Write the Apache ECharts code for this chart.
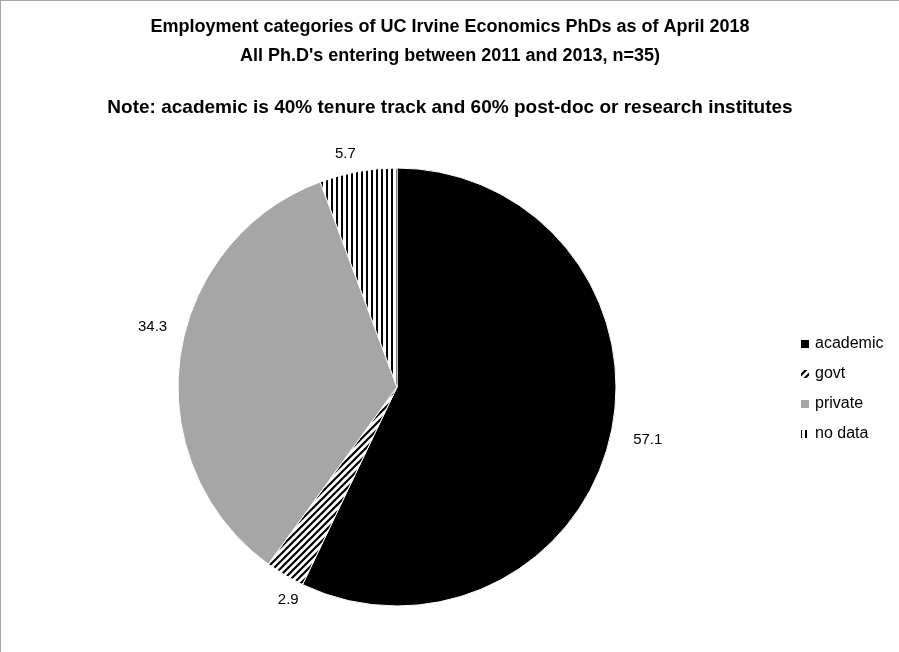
<!DOCTYPE html>
<html>
<head>
<meta charset="utf-8">
<script src="https://cdn.jsdelivr.net/npm/echarts@6/dist/echarts.min.js"></script>
<style>
  html, body { margin: 0; padding: 0; background: #fff; overflow: hidden; }
  #main {
    width: 898px;
    height: 651px;
    border-top: 1px solid #a6a6a6;
    border-left: 1px solid #a6a6a6;
  }
</style>
</head>
<body>
<div id="main"></div>
<script>
var categories = ['academic', 'govt', 'private', 'no data']
var shares = [57.1, 2.9, 34.3, 5.7]

// hatch fills like the excel pattern fills
function stripes(kind) {
  var c = document.createElement('canvas')
  var ctx = c.getContext('2d')
  if (kind === 'vertical') {
    c.width = 5
    c.height = 5
    ctx.fillStyle = '#fff'
    ctx.fillRect(0, 0, 5, 5)
    ctx.fillStyle = '#000'
    ctx.fillRect(0, 0, 2, 5)
  } else {
    var s = 7
    c.width = s
    c.height = s
    ctx.fillStyle = '#fff'
    ctx.fillRect(0, 0, s, s)
    ctx.strokeStyle = '#000'
    ctx.lineWidth = 2.2
    ctx.beginPath()
    ctx.moveTo(-s, s); ctx.lineTo(s, -s)
    ctx.moveTo(0, s); ctx.lineTo(s, 0)
    ctx.moveTo(0, 2 * s); ctx.lineTo(2 * s, 0)
    ctx.stroke()
  }
  return { image: c, repeat: 'repeat' }
}

var fills = ['#000000', stripes('diagonal'), '#a6a6a6', stripes('vertical')]
// excel puts a couple of the labels a bit off the radial line
var labelNudge = [[0, 0], [28, 9], [10, -28], [6, 0]]

var myChart = echarts.init(document.getElementById('main'))

var option = {
  animation: false,
  title: [
    {
      text: 'Employment categories of UC Irvine Economics PhDs as of April 2018\nAll Ph.D\'s entering between 2011 and 2013, n=35)',
      left: 'center',
      top: 7,
      textStyle: {
        fontFamily: 'Liberation Sans',
        fontWeight: 'bold',
        fontSize: 18,
        lineHeight: 29,
        color: '#000'
      }
    },
    {
      text: 'Note: academic is 40% tenure track and 60% post-doc or research institutes',
      left: 'center',
      top: 92,
      textStyle: {
        fontFamily: 'Liberation Sans',
        fontWeight: 'bold',
        fontSize: 19,
        color: '#000'
      }
    }
  ],
  legend: {
    orient: 'vertical',
    left: 793,
    top: 330,
    itemWidth: 10,
    itemHeight: 10,
    itemGap: 14,
    icon: 'rect',
    textStyle: {
      fontFamily: 'Liberation Sans',
      fontSize: 16,
      color: '#000'
    },
    data: categories
  },
  series: [
    {
      type: 'pie',
      center: [396, 386],
      radius: 219,
      startAngle: 90,
      clockwise: true,
      avoidLabelOverlap: false,
      itemStyle: {
        borderColor: '#fff',
        borderWidth: 1
      },
      label: {
        show: true,
        position: 'outside',
        formatter: function (p) { return p.value.toFixed(1) },
        fontFamily: 'Liberation Sans',
        fontSize: 15,
        color: '#000'
      },
      labelLine: {
        show: false,
        length: 18,
        length2: 0
      },
      emphasis: { disabled: true },
      data: categories.map(function (name, i) {
        return {
          name: name,
          value: shares[i],
          itemStyle: { color: fills[i] },
          label: { offset: labelNudge[i] }
        }
      })
    }
  ]
}

myChart.setOption(option)
</script>
</body>
</html>
